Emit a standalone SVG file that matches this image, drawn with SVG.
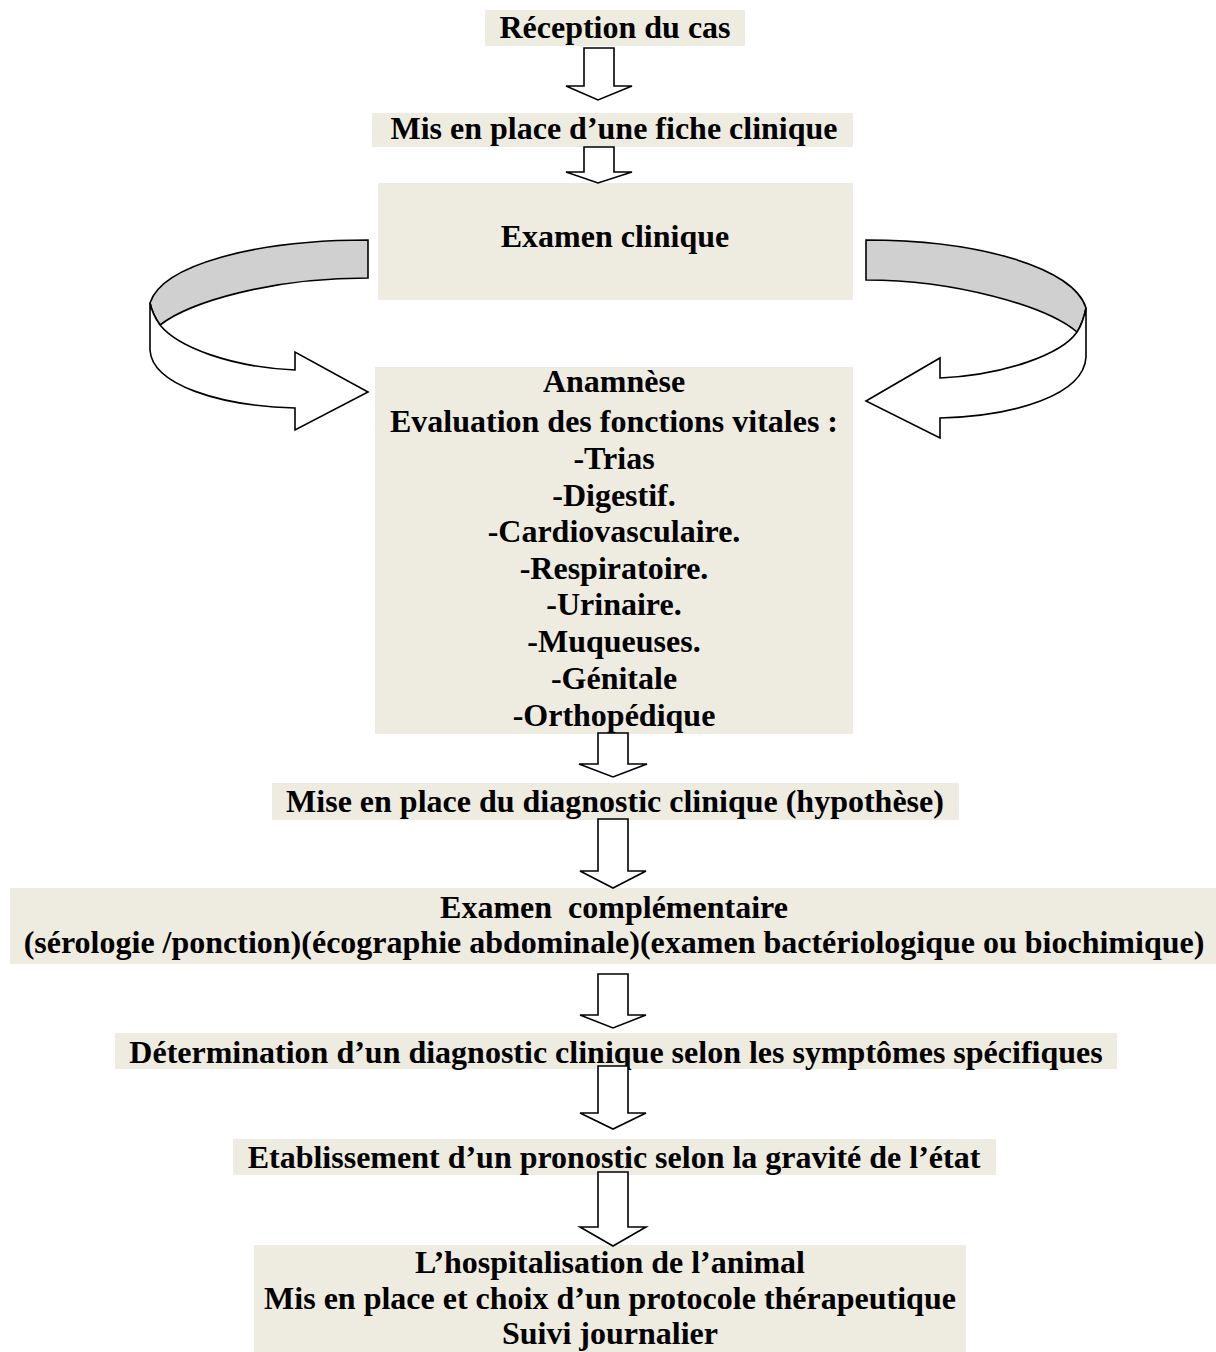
<svg xmlns="http://www.w3.org/2000/svg" width="1216" height="1352" viewBox="0 0 1216 1352">
<style>
.box{fill:#EEECE1;stroke:none}
.t{font-family:"Liberation Serif","Times New Roman",serif;font-weight:bold;font-size:32px;fill:#000;text-anchor:middle}
.arr{fill:#fff;stroke:#000;stroke-width:1.6;stroke-linejoin:miter}
.rib{fill:#fff;stroke:#000;stroke-width:1.6}
.ribg{fill:#D0D0D0;stroke:#000;stroke-width:1.6}
</style>
<rect width="1216" height="1352" fill="#fff"/>
<g id="n1"><rect class="box" x="485" y="10" width="260" height="36"/><text class="t" x="615" y="38">Réception du cas</text></g>
<g id="n2"><rect class="box" x="372" y="113" width="481" height="34"/><text class="t" x="614" y="139">Mis en place d’une fiche clinique</text></g>
<g id="n3"><rect class="box" x="378" y="183" width="475" height="117"/><text class="t" x="615" y="247">Examen clinique</text></g>
<g id="n4"><rect class="box" x="375" y="367" width="478" height="367"/>
<text class="t" x="614" y="392">Anamnèse</text>
<text class="t" x="614" y="432">Evaluation des fonctions vitales :</text>
<text class="t" x="614" y="469">-Trias</text>
<text class="t" x="614" y="506">-Digestif.</text>
<text class="t" x="614" y="542">-Cardiovasculaire.</text>
<text class="t" x="614" y="579">-Respiratoire.</text>
<text class="t" x="614" y="615">-Urinaire.</text>
<text class="t" x="614" y="652">-Muqueuses.</text>
<text class="t" x="614" y="689">-Génitale</text>
<text class="t" x="614" y="726">-Orthopédique</text></g>
<g id="n5"><rect class="box" x="272" y="783" width="687" height="37"/><text class="t" x="615" y="812">Mise en place du diagnostic clinique (hypothèse)</text></g>
<g id="n6"><rect class="box" x="10" y="888" width="1206" height="76"/><text class="t" x="614" y="918" xml:space="preserve">Examen  complémentaire</text><text class="t" x="614" y="953">(sérologie /ponction)(écographie abdominale)(examen bactériologique ou biochimique)</text></g>
<g id="n7"><rect class="box" x="115" y="1033" width="1002" height="36"/><text class="t" x="616" y="1063">Détermination d’un diagnostic clinique selon les symptômes spécifiques</text></g>
<g id="n8"><rect class="box" x="233" y="1139" width="763" height="36"/><text class="t" x="614" y="1168">Etablissement d’un pronostic selon la gravité de l’état</text></g>
<g id="n9"><rect class="box" x="254" y="1245" width="712" height="107"/>
<text class="t" x="610" y="1273">L’hospitalisation de l’animal</text>
<text class="t" x="610" y="1309">Mis en place et choix d’un protocole thérapeutique</text>
<text class="t" x="610" y="1344">Suivi journalier</text></g>
<g id="connectors">
<polygon class="arr" points="584,48 614,48 614,86 632,86 598,100 566,86 584,86"/>
<polygon class="arr" points="584,147 614,147 614,172 632,172 598,183 566,172 584,172"/>
<polygon class="arr" points="598,733 628,733 628,764 647,764 613,777 579,764 598,764"/>
<polygon class="arr" points="598,819 628,819 628,871 646,871 613,888 580,871 598,871"/>
<polygon class="arr" points="598,974 628,974 628,1015 646,1015 613,1028 580,1015 598,1015"/>
<polygon class="arr" points="598,1066 628,1066 628,1113 646,1113 613,1129 580,1113 598,1113"/>
<polygon class="arr" points="598,1172 628,1172 628,1227 646,1227 613,1246 580,1227 598,1227"/>
<g id="loop-left">
<path class="ribg" d="M368,240 C255,240 162,265 150,303 C152,312 155,318 160,325 C190,302 270,278 368,278 Z"/>
<path class="rib" d="M150,303 L150,350 C152,385 220,406 295,408 L295,430 L368,392 L295,352 L295,370 C230,367 178,347 160,325 C155,318 152,312 150,303 Z"/>
</g>
<g id="loop-right">
<path class="ribg" d="M866,240 C980,240 1074,268 1086,308 C1084,318 1081,326 1077,332 C1046,306 955,280 866,280 Z"/>
<path class="rib" d="M1086,308 L1086,357 C1084,395 1015,416 940,418 L940,438 L866,401 L940,358 L940,378 C1005,375 1062,354 1077,332 C1081,326 1084,318 1086,308 Z"/>
</g>
</g>
</svg>
